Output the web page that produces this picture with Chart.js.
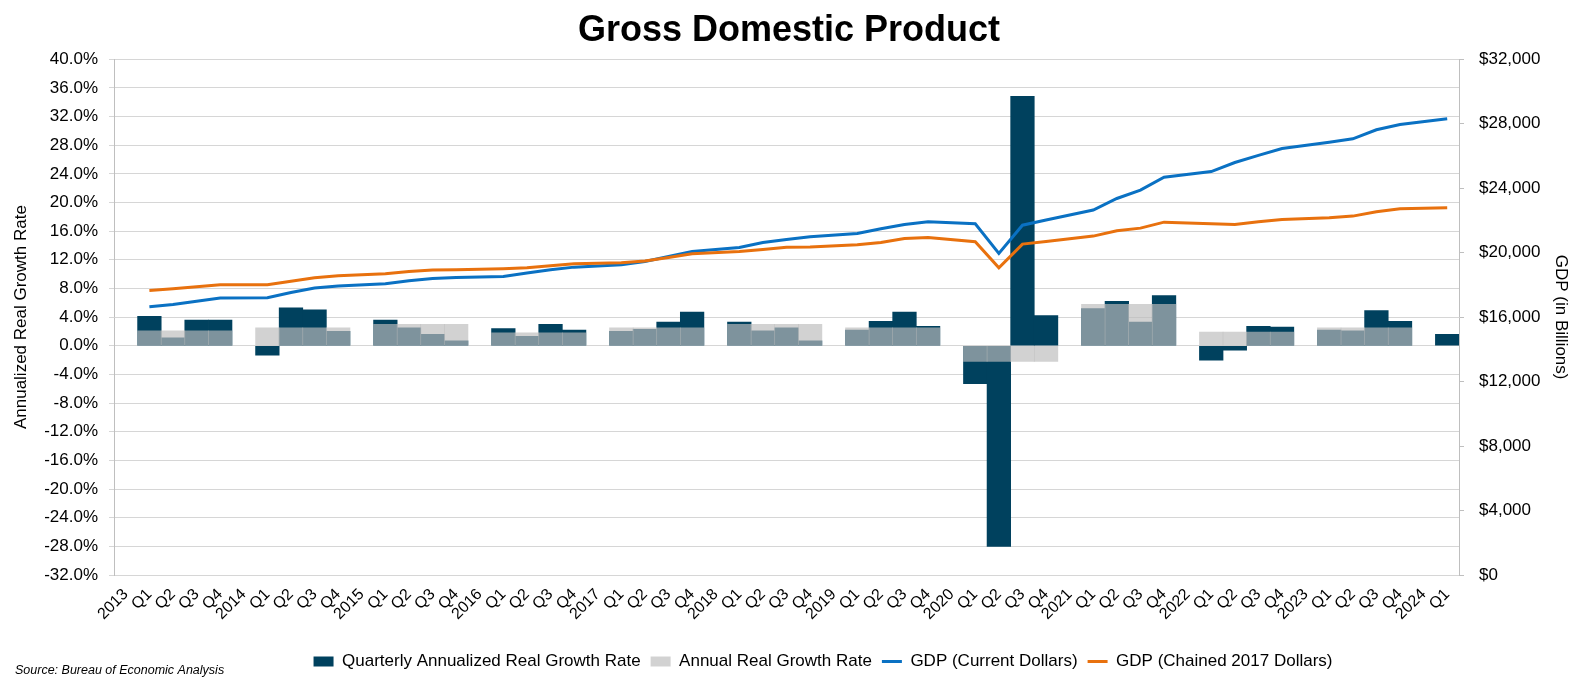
<!DOCTYPE html>
<html>
<head>
<meta charset="utf-8">
<title>Gross Domestic Product</title>
<script src="https://cdn.jsdelivr.net/npm/chart.js@4.4.1/dist/chart.umd.min.js"></script>
<style>
  html, body { margin: 0; padding: 0; background: #fff; }
</style>
</head>
<body>
<canvas id="gdpChart" width="1578" height="689"></canvas>
<script>
// x axis: a year slot followed by its quarters
const labels = [
  '2013', 'Q1', 'Q2', 'Q3', 'Q4',
  '2014', 'Q1', 'Q2', 'Q3', 'Q4',
  '2015', 'Q1', 'Q2', 'Q3', 'Q4',
  '2016', 'Q1', 'Q2', 'Q3', 'Q4',
  '2017', 'Q1', 'Q2', 'Q3', 'Q4',
  '2018', 'Q1', 'Q2', 'Q3', 'Q4',
  '2019', 'Q1', 'Q2', 'Q3', 'Q4',
  '2020', 'Q1', 'Q2', 'Q3', 'Q4',
  '2021', 'Q1', 'Q2', 'Q3', 'Q4',
  '2022', 'Q1', 'Q2', 'Q3', 'Q4',
  '2023', 'Q1', 'Q2', 'Q3', 'Q4',
  '2024', 'Q1'
];

// quarterly annualized real growth, %
const quarterlyGrowth = [
  null, 4.1, 1.1, 3.6, 3.6,
  null, -1.3, 5.3, 5.0, 2.0,
  null, 3.6, 2.5, 1.6, 0.7,
  null, 2.4, 1.3, 3.0, 2.2,
  null, 2.0, 2.3, 3.3, 4.7,
  null, 3.3, 2.1, 2.5, 0.7,
  null, 2.2, 3.4, 4.7, 2.7,
  null, -5.3, -28.0, 34.8, 4.2,
  null, 5.2, 6.2, 3.3, 7.0,
  null, -2.0, -0.6, 2.7, 2.6,
  null, 2.2, 2.1, 4.9, 3.4,
  null, 1.6
];

// annual real growth, %, repeated for each quarter of the year
const annualGrowth = [
  null, 2.1, 2.1, 2.1, 2.1,
  null, 2.5, 2.5, 2.5, 2.5,
  null, 3.0, 3.0, 3.0, 3.0,
  null, 1.8, 1.8, 1.8, 1.8,
  null, 2.5, 2.5, 2.5, 2.5,
  null, 3.0, 3.0, 3.0, 3.0,
  null, 2.5, 2.5, 2.5, 2.5,
  null, -2.2, -2.2, -2.2, -2.2,
  null, 5.8, 5.8, 5.8, 5.8,
  null, 1.9, 1.9, 1.9, 1.9,
  null, 2.5, 2.5, 2.5, 2.5,
  null, null
];

// GDP in current dollars, billions
const gdpCurrent = [
  null, 16640, 16780, 16990, 17190,
  null, 17200, 17530, 17810, 17930,
  null, 18065, 18260, 18400, 18460,
  null, 18525, 18740, 18940, 19100,
  null, 19250, 19450, 19760, 20070,
  null, 20320, 20630, 20820, 20980,
  null, 21190, 21480, 21750, 21910,
  null, 21790, 19950, 21700, 22020,
  null, 22640, 23360, 23880, 24680,
  null, 25030, 25590, 26030, 26460,
  null, 26850, 27060, 27620, 27950,
  null, 28300
];

// GDP in chained 2017 dollars, billions
const gdpChained = [
  null, 17655, 17760, 17880, 18005,
  null, 18005, 18230, 18440, 18560,
  null, 18690, 18830, 18915, 18930,
  null, 19000, 19060, 19180, 19310,
  null, 19370, 19475, 19700, 19930,
  null, 20075, 20200, 20340, 20345,
  null, 20490, 20630, 20880, 20940,
  null, 20680, 19060, 20530, 20690,
  null, 21025, 21360, 21520, 21890,
  null, 21790, 21750, 21910, 22060,
  null, 22160, 22265, 22530, 22720,
  null, 22780
];

const FONT = '"Liberation Sans", Arial, Helvetica, sans-serif';
Chart.defaults.font.family = FONT;
Chart.defaults.color = '#000';

const PLOT_LEFT = 114;
const PLOT_RIGHT = 1459;
const PLOT_BOTTOM = 575;
const PAD_BOTTOM = 9;

// source note under the chart
const sourceNote = {
  id: 'sourceNote',
  afterDraw(chart) {
    const ctx = chart.ctx;
    ctx.save();
    ctx.font = 'italic 12.5px ' + FONT;
    ctx.fillStyle = '#000';
    ctx.textBaseline = 'middle';
    ctx.fillText('Source: Bureau of Economic Analysis', 15, 671);
    ctx.restore();
  }
};

// legend in the original sits a bit right of centre
const legendShift = {
  id: 'legendShift',
  afterLayout(chart) {
    chart.legend.left += 34;
    chart.legend.right += 34;
  }
};

const ctx = document.getElementById('gdpChart').getContext('2d');
new Chart(ctx, {
  type: 'bar',
  data: {
    labels: labels,
    datasets: [
      {
        label: 'Quarterly Annualized Real Growth Rate',
        data: quarterlyGrowth,
        backgroundColor: '#00415e',
        borderWidth: 0,
        grouped: false,
        barPercentage: 1,
        categoryPercentage: 1,
        yAxisID: 'y',
        pointStyle: 'rect',
        order: 4
      },
      {
        label: 'Annual Real Growth Rate',
        data: annualGrowth,
        backgroundColor: 'rgba(188, 188, 188, 0.67)',
        borderWidth: 0,
        grouped: false,
        barPercentage: 1,
        categoryPercentage: 1,
        yAxisID: 'y',
        pointStyle: 'rect',
        order: 3
      },
      {
        type: 'line',
        label: 'GDP (Current Dollars)',
        data: gdpCurrent,
        borderColor: '#0a71c3',
        backgroundColor: '#0a71c3',
        borderWidth: 3,
        pointRadius: 0,
        spanGaps: true,
        tension: 0,
        yAxisID: 'y1',
        pointStyle: 'line',
        order: 2
      },
      {
        type: 'line',
        label: 'GDP (Chained 2017 Dollars)',
        data: gdpChained,
        borderColor: '#e8710e',
        backgroundColor: '#e8710e',
        borderWidth: 3,
        pointRadius: 0,
        spanGaps: true,
        tension: 0,
        yAxisID: 'y1',
        pointStyle: 'line',
        order: 1
      }
    ]
  },
  options: {
    responsive: false,
    animation: false,
    layout: { padding: { left: 0, right: 0, top: 0, bottom: PAD_BOTTOM } },
    plugins: {
      title: {
        display: true,
        text: 'Gross Domestic Product',
        font: { size: 36, weight: 'bold' },
        color: '#000',
        padding: { top: 9, bottom: 7 }
      },
      legend: {
        position: 'bottom',
        labels: {
          usePointStyle: true,
          pointStyleWidth: 20,
          boxWidth: 20,
          boxHeight: 10,
          padding: 10,
          font: { size: 17 },
          sort: (a, b) => a.datasetIndex - b.datasetIndex
        }
      },
      tooltip: { enabled: false }
    },
    scales: {
      x: {
        offset: true,
        grid: { display: false, drawTicks: false },
        border: { display: false },
        ticks: {
          autoSkip: false,
          minRotation: 45,
          maxRotation: 45,
          padding: 10,
          font: { size: 16 }
        },
        afterFit(scale) {
          const legendH = scale.chart.legend ? scale.chart.legend.height : 40;
          scale.height = scale.chart.height - PAD_BOTTOM - legendH - PLOT_BOTTOM;
        }
      },
      y: {
        position: 'left',
        min: -32,
        max: 40,
        ticks: {
          stepSize: 4,
          padding: 11,
          font: { size: 17 },
          callback: v => v.toFixed(1) + '%'
        },
        grid: { color: '#d6d6d6', tickLength: 5 },
        border: { color: '#bfbfbf' },
        title: {
          display: true,
          text: 'Annualized Real Growth Rate',
          font: { size: 17 },
          padding: { top: 11, bottom: 0 }
        },
        afterFit(scale) { scale.width = PLOT_LEFT; }
      },
      y1: {
        position: 'right',
        min: 0,
        max: 32000,
        ticks: {
          stepSize: 4000,
          padding: 15,
          font: { size: 17 },
          callback: v => '$' + v.toLocaleString('en-US')
        },
        grid: { drawOnChartArea: false, color: '#bfbfbf', tickLength: 5 },
        border: { color: '#bfbfbf' },
        title: {
          display: true,
          text: 'GDP (in Billions)',
          font: { size: 17 },
          padding: { top: 7, bottom: 0 }
        },
        afterFit(scale) { scale.width = 1578 - PLOT_RIGHT; }
      }
    }
  },
  plugins: [sourceNote, legendShift]
});
</script>
</body>
</html>
